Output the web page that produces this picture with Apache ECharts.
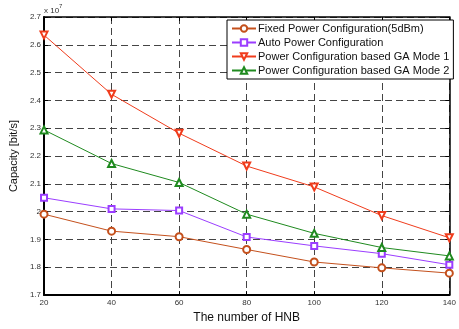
<!DOCTYPE html>
<html>
<head>
<meta charset="utf-8">
<script src="https://cdn.jsdelivr.net/npm/echarts@6/dist/echarts.min.js"></script>
<style>html,body{margin:0;padding:0;background:#fff}#c{width:459px;height:329px}</style>
</head>
<body>
<div id="c"></div>
<script>
// x values: number of HNB
var hnb = [20, 40, 60, 80, 100, 120, 140];
// Capacity in units of 10^6 bit/s (axis shows x 10^7)
var fixedPower = [19.91, 19.30, 19.10, 18.64, 18.19, 17.98, 17.79];
var autoPower = [20.50, 20.10, 20.04, 19.09, 18.77, 18.49, 18.09];
var gaMode1 = [26.35, 24.22, 22.82, 21.64, 20.89, 19.86, 19.06];
var gaMode2 = [22.94, 21.73, 21.05, 19.91, 19.22, 18.71, 18.41];
var seriesNames = ['Fixed Power Configuration(5dBm)', 'Auto Power Configuration', 'Power Configuration based GA Mode 1', 'Power Configuration based GA Mode 2'];
var xTicks = [20, 40, 60, 80, 100, 120, 140];
var yTicks = ['1.7', '1.8', '1.9', '2', '2.1', '2.2', '2.3', '2.4', '2.5', '2.6', '2.7'];

var colors = ['#c4501c', '#9b3dff', '#f03c1c', '#1f8a1f'];
var symbols = ['emptyCircle', 'emptyRect', 'emptyTriangle', 'emptyTriangle'];
var rotations = [0, 0, 180, 0];
var sizes = [7, 6, 7, 7];
var datasets = [fixedPower, autoPower, gaMode1, gaMode2];

function pairs(arr) { return hnb.map(function (x, i) { return [x, arr[i]]; }); }

var chart = echarts.init(document.getElementById('c'), null, { renderer: 'canvas' });
var font = 'Liberation Sans, Arial, sans-serif';
var gridLine = { show: true, lineStyle: { color: '#444', type: [7, 4], width: 1 } };

var series = datasets.map(function (d, i) {
  return {
    name: seriesNames[i], type: 'line', data: pairs(d),
    symbol: symbols[i], symbolSize: sizes[i], symbolRotate: rotations[i],
    lineStyle: { color: colors[i], width: 1 },
    itemStyle: { color: colors[i], borderColor: colors[i], borderWidth: 1 },
    z: 3
  };
});

chart.setOption({
  animation: false,
  backgroundColor: '#fff',
  grid: { left: 42, right: 4, top: 17, bottom: 27, containLabel: false },
  xAxis: [{
    type: 'value', min: 20, max: 140, interval: 20, position: 'bottom',
    name: 'The number of HNB', nameLocation: 'middle', nameGap: 14,
    nameTextStyle: { fontFamily: font, fontSize: 12, color: '#111' },
    axisLine: { show: true, lineStyle: { color: '#000', width: 2 } },
    axisTick: { show: true, inside: true, length: 4, lineStyle: { color: '#000' } },
    axisLabel: { fontFamily: font, fontSize: 8, color: '#333', margin: 4 },
    splitLine: gridLine
  }, {
    type: 'value', min: 20, max: 140, interval: 20, position: 'top',
    axisLine: { show: true, onZero: false, lineStyle: { color: '#000', width: 1.5 } },
    axisTick: { show: true, inside: true, length: 4, lineStyle: { color: '#000' } },
    axisLabel: { show: false }, splitLine: { show: false }
  }],
  yAxis: [{
    type: 'value', min: 17, max: 27, interval: 1, position: 'left',
    name: 'Capacity [bit/s]', nameLocation: 'middle', nameGap: 18,
    nameTextStyle: { fontFamily: font, fontSize: 11, color: '#111' },
    axisLine: { show: true, lineStyle: { color: '#000', width: 2 } },
    axisTick: { show: true, inside: true, length: 4, lineStyle: { color: '#000' } },
    axisLabel: { fontFamily: font, fontSize: 8, color: '#333', margin: 3,
      formatter: function (v) { return yTicks[Math.round(v - 17)]; } },
    splitLine: gridLine
  }, {
    type: 'value', min: 17, max: 27, interval: 1, position: 'right',
    axisLine: { show: true, onZero: false, lineStyle: { color: '#000', width: 1.5 } },
    axisTick: { show: true, inside: true, length: 4, lineStyle: { color: '#000' } },
    axisLabel: { show: false }, splitLine: { show: false }
  }],
  legend: {
    orient: 'vertical', left: 227, top: 20, itemGap: 3,
    itemWidth: 24, itemHeight: 8,
    borderColor: '#000', borderWidth: 1, backgroundColor: '#fff',
    padding: [3, 4, 3, 4],
    textStyle: { fontFamily: font, fontSize: 11, color: '#111', padding: [0, 0, 0, -3] },
    data: seriesNames
  },
  graphic: [{
    type: 'text', left: 44, top: 3,
    style: {
      text: '{a|x 10}{b|7}', fontFamily: font,
      rich: {
        a: { fontSize: 8, fontFamily: font, fill: '#333', padding: [4, 0, 0, 0] },
        b: { fontSize: 6, fontFamily: font, fill: '#333', verticalAlign: 'top' }
      }
    }
  }],
  series: series
});
</script>
</body>
</html>
